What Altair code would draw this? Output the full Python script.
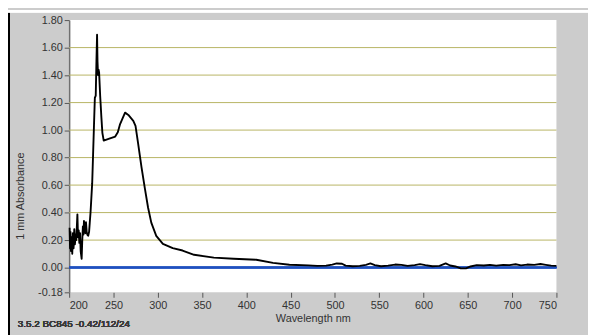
import altair as alt
import pandas as pd

# ---- data ----
wavelength = [
    200.5, 201, 201.5, 202, 202.8, 203.5, 204.2, 205, 205.8, 206.5, 207.3, 208, 208.7, 209.3,
    210, 210.8, 211.5, 212.3, 213, 214.1, 214.8, 215.5, 216.2, 216.7, 217.5, 218.3, 219, 219.8,
    220.5, 221.5, 222.5, 223.3, 224.1, 225, 226, 227, 228, 229, 230, 230.8, 231.5, 232, 232.6,
    233.2, 233.8, 235, 236.4, 237.5, 239, 244.5, 252, 254.9, 257.5, 263.1, 266.8, 272.4, 274.9,
    277.9, 281.6, 285.4, 289.1, 292.7, 298.3, 305.8, 316.9, 328, 341, 363.3, 385.6, 411.2,
    430.1, 448.6, 470, 480, 490, 497, 502, 508, 512, 520, 528, 535, 540, 545, 552, 560, 568,
    575, 582, 590, 596, 602, 610, 618, 625, 630, 636, 642, 648, 653, 660, 668, 675, 682, 690,
    697, 704, 710, 717, 725, 732, 738, 744, 750,
]
absorbance = [
    0.29, 0.14, 0.26, 0.12, 0.22, 0.10, 0.25, 0.14, 0.28, 0.17, 0.24, 0.20, 0.30, 0.387,
    0.22, 0.27, 0.18, 0.25, 0.12, 0.064, 0.20, 0.30, 0.24, 0.339, 0.29, 0.25, 0.33, 0.26,
    0.24, 0.231, 0.26, 0.33, 0.399, 0.50, 0.614, 0.82, 1.03, 1.234, 1.25, 1.50, 1.693, 1.50, 1.40,
    1.44, 1.42, 1.25, 1.091, 0.98, 0.924, 0.936, 0.953, 0.984, 1.044, 1.127, 1.110, 1.067, 1.03,
    0.90, 0.733, 0.578, 0.435, 0.327, 0.231, 0.172, 0.141, 0.124, 0.093, 0.072, 0.064, 0.057,
    0.034, 0.021, 0.016, 0.012, 0.014, 0.022, 0.030, 0.028, 0.014, 0.010, 0.012, 0.020, 0.030,
    0.018, 0.010, 0.014, 0.022, 0.020, 0.012, 0.018, 0.025, 0.018, 0.010, 0.012, 0.030, 0.015,
    0.008, -0.006, -0.006, 0.008, 0.018, 0.015, 0.020, 0.014, 0.020, 0.018, 0.024, 0.016,
    0.022, 0.020, 0.026, 0.020, 0.014, 0.012,
]

x_ticks = [200, 250, 300, 350, 400, 450, 500, 550, 600, 650, 700, 750]
y_ticks = [-0.18, 0.0, 0.2, 0.4, 0.6, 0.8, 1.0, 1.2, 1.4, 1.6, 1.8]
grid_values = [0.2, 0.4, 0.6, 0.8, 1.0, 1.2, 1.4, 1.6]
footer_text = "3.5.2 BC845 -0.42/112/24"
x_title = "Wavelength nm"
y_title = "1 mm Absorbance"

spec_df = pd.DataFrame({"wl": wavelength, "abs": absorbance})
grid_df = pd.DataFrame({"g": grid_values})

FONT = "Liberation Sans"
x_scale = alt.Scale(domain=[200, 750], nice=False, zero=False)
y_scale = alt.Scale(domain=[-0.18, 1.8], nice=False, zero=False)

x_axis = alt.Axis(
    values=x_ticks, format="d", grid=False, domain=False, labelOverlap=False,
    tickSize=5, tickColor="#555555", labelPadding=2,
    labelFont=FONT, labelFontSize=11, labelColor="#333333",
    title=x_title, titleFont=FONT, titleFontSize=11, titleFontWeight="normal",
    titleColor="#333333", titleY=27, titleBaseline="middle",
)
y_axis = alt.Axis(
    values=y_ticks, grid=False, labelOverlap=False,
    labelExpr="datum.value < 0 ? '-' + format(-datum.value, '.2f') : format(datum.value, '.2f')",
    tickSize=5, tickColor="#555555", labelPadding=2,
    domainColor="#707070", domainWidth=1.5,
    labelFont=FONT, labelFontSize=11, labelColor="#333333",
    title=y_title, titleFont=FONT, titleFontSize=11, titleFontWeight="normal",
    titleColor="#333333", titleAngle=270, titleX=-49, titleY=178,
    titleAlign="center", titleBaseline="middle",
)

line = alt.Chart(spec_df).mark_line(color="black", strokeWidth=1.9, strokeJoin="round").encode(
    x=alt.X("wl:Q", scale=x_scale, axis=x_axis),
    y=alt.Y("abs:Q", scale=y_scale, axis=y_axis),
    order="wl:Q",
)

grid = alt.Chart(grid_df).mark_rule(color="#b8b464", strokeWidth=1).encode(
    y=alt.Y("g:Q", scale=y_scale, axis=y_axis)
)

zero_line = alt.Chart(grid_df).mark_rule(color="#1f4fc0", strokeWidth=1.6).encode(
    y=alt.datum(0.0, axis=y_axis)
)

footer = alt.Chart(grid_df).mark_text(
    text=footer_text, align="left", baseline="middle",
    font=FONT, fontSize=10, fontWeight="normal", color="#3a3a3a",
).encode(x=alt.value(-52), y=alt.value(308))

left_bar = alt.Chart(grid_df).mark_rule(color="black", strokeWidth=2).encode(
    x=alt.value(-61), y=alt.value(-8), y2=alt.value(320)
)

top_strip = alt.Chart(grid_df).mark_rect(color="white").encode(
    x=alt.value(-62), x2=alt.value(526), y=alt.value(-10), y2=alt.value(-8)
)

chart = (
    alt.layer(grid, zero_line, line, footer, left_bar, top_strip)
    .properties(
        width=494, height=276,
        padding={"left": 62, "top": 10, "right": 32, "bottom": 41},
        autosize=alt.AutoSizeParams(type="none"),
        background="#cccccc",
    )
    .configure_view(fill="white", strokeWidth=0)
    .configure_axis(labelOverlap=False)
)

chart.save("out.html", embed_options={"renderer": "svg", "actions": False})
